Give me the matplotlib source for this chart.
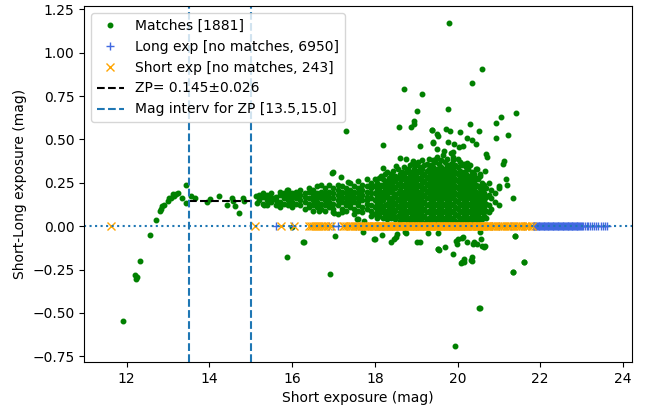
import matplotlib
matplotlib.use("Agg")
import matplotlib.pyplot as plt

# ---- data ----
# matched stars: individual points (bright end, outliers)
match_x = [
    11.92, 12.21, 12.23, 12.24, 12.31, 12.57, 12.70, 12.80, 12.82, 12.86,
    12.91, 12.99, 13.03, 13.07, 13.12, 13.15, 13.20, 13.24, 13.33, 13.43,
    13.44, 13.56, 13.64, 13.94, 14.02, 14.23, 14.43, 14.55, 14.56, 14.62,
    14.71, 14.81, 14.83, 15.13, 15.14, 15.37, 15.33, 15.57, 15.65, 15.88,
    15.88, 15.99, 16.26, 16.28, 16.64, 16.70, 16.92, 16.96, 16.98, 17.02,
    17.04, 17.12, 17.18, 17.30, 17.34, 17.58, 17.60, 17.71, 17.73, 17.99,
    18.00, 18.05, 18.17, 18.19, 18.19, 18.39, 18.43, 18.47, 18.51, 18.51,
    18.53, 18.58, 18.61, 18.61, 18.70, 18.73, 18.75, 18.75, 18.87, 18.87,
    18.92, 18.94, 18.95, 19.01, 19.03, 19.09, 19.10, 19.13, 19.28, 19.38,
    19.39, 19.40, 19.40, 19.48, 19.50, 19.50, 19.52, 19.53, 19.53, 19.54,
    19.55, 19.68, 19.69, 19.71, 19.76, 19.77, 19.80, 19.81, 19.88, 19.90,
    19.90, 19.92, 19.93, 19.96, 19.98, 20.00, 20.04, 20.05, 20.08, 20.10,
    20.12, 20.14, 20.14, 20.16, 20.16, 20.24, 20.24, 20.24, 20.31, 20.32,
    20.34, 20.34, 20.35, 20.35, 20.38, 20.39, 20.44, 20.48, 20.48, 20.51,
    20.52, 20.54, 20.55, 20.55, 20.56, 20.58, 20.59, 20.64, 20.66, 20.66,
    20.70, 20.72, 20.93, 20.93, 21.00, 21.05, 21.11, 21.13, 21.17, 21.19,
    21.23, 21.34, 21.34, 21.35, 21.38, 21.39, 21.41, 21.60, 21.61,
]
match_y = [
    -0.545, -0.280, -0.304, -0.292, -0.203, -0.052, 0.033, 0.088, 0.100, 0.117,
    0.121, 0.144, 0.160, 0.165, 0.188, 0.173, 0.183, 0.194, 0.165, 0.236,
    0.136, 0.173, 0.163, 0.140, 0.157, 0.173, 0.121, 0.165, 0.146, 0.119,
    0.079, 0.165, 0.144, 0.173, 0.136, 0.173, 0.121, 0.165, 0.121, 0.207,
    -0.177, -0.004, -0.090, -0.090, 0.088, 0.240, -0.273, 0.307, 0.313, 0.077,
    -0.058, 0.073, 0.281, 0.549, 0.255, 0.044, 0.040, -0.033, 0.031, -0.071,
    -0.071, 0.058, -0.052, 0.468, 0.336, -0.090, 0.067, -0.075, 0.346, -0.062,
    -0.046, 0.569, 0.392, 0.054, 0.789, -0.036, 0.386, -0.038, 0.569, 0.035,
    0.374, 0.605, 0.588, 0.666, -0.090, -0.090, 0.461, 0.764, -0.042, 0.553,
    0.553, 0.482, 0.484, 0.390, 0.534, 0.444, -0.042, 0.520, -0.133, -0.134,
    -0.138, 0.434, -0.119, 0.559, 0.486, 0.674, 1.173, 0.547, 0.400, 0.428,
    -0.161, 0.476, -0.690, -0.085, -0.105, -0.071, 0.457, 0.545, -0.211, -0.209,
    -0.067, 0.461, -0.065, -0.205, -0.188, 0.507, 0.367, -0.090, 0.588, -0.196,
    0.828, -0.200, 0.499, -0.180, -0.100, -0.090, 0.476, 0.328, -0.104, 0.551,
    -0.472, -0.472, 0.292, -0.033, -0.071, -0.113, 0.906, -0.119, 0.317, -0.115,
    0.415, 0.396, 0.592, 0.507, 0.223, 0.632, 0.361, 0.376, 0.271, 0.238,
    0.526, 0.163, -0.265, -0.265, -0.058, -0.056, 0.655, -0.207, -0.209,
]

# matched stars: the main cloud, read column by column (x: short mag, y: offsets)
cloud_x = [
    15.20, 15.30, 15.40, 15.50, 15.60, 15.70, 15.80, 15.90, 16.00, 16.10,
    16.20, 16.30, 16.40, 16.50, 16.60, 16.70, 16.80, 16.90, 17.00, 17.10,
    17.20, 17.30, 17.40, 17.50, 17.60, 17.70, 17.80, 17.90,
    18.00, 18.05, 18.10, 18.15, 18.20, 18.25, 18.30, 18.35, 18.40, 18.45,
    18.50, 18.55, 18.60, 18.65, 18.70, 18.75, 18.80, 18.85,
    18.90, 18.95, 19.00, 19.05, 19.10, 19.15, 19.20, 19.25, 19.30, 19.35,
    19.40, 19.45, 19.50, 19.55, 19.60, 19.65, 19.70, 19.75, 19.80, 19.85,
    19.90, 19.95, 20.00, 20.05, 20.10, 20.15, 20.20, 20.25, 20.30, 20.35,
    20.40, 20.45, 20.50, 20.55, 20.60, 20.65, 20.70, 20.75, 20.80, 20.90,
    21.00,
]
cloud_y = [
    [0.15, 0.18], [0.13, 0.17, 0.19], [0.15, 0.12, 0.18], [0.16, 0.14, 0.19],
    [0.12, 0.17, 0.15], [0.14, 0.18, 0.20, 0.11], [0.16, 0.13, 0.19],
    [0.15, 0.18, 0.12, 0.21], [0.14, 0.17, 0.19, 0.11], [0.16, 0.13, 0.20, 0.18],
    [0.15, 0.12, 0.18, 0.21], [0.17, 0.14, 0.10, 0.19], [0.16, 0.13, 0.20, 0.22, 0.11],
    [0.15, 0.12, 0.18, 0.21, 0.09], [0.17, 0.14, 0.19, 0.11, 0.23],
    [0.16, 0.13, 0.20, 0.10, 0.18], [0.15, 0.18, 0.12, 0.22, 0.09, 0.20],
    [0.17, 0.14, 0.20, 0.11, 0.24], [0.16, 0.13, 0.19, 0.22, 0.10, 0.08],
    [0.15, 0.18, 0.12, 0.21, 0.24], [0.17, 0.14, 0.20, 0.10, 0.23, 0.08],
    [0.16, 0.19, 0.12, 0.22, 0.09, 0.14], [0.18, 0.15, 0.21, 0.11, 0.25, 0.13],
    [0.17, 0.14, 0.20, 0.23, 0.10, 0.07], [0.16, 0.19, 0.12, 0.22, 0.26, 0.09, 0.14],
    [0.18, 0.15, 0.21, 0.11, 0.24, 0.08], [0.17, 0.13, 0.20, 0.23, 0.10, 0.27, 0.15],
    [0.16, 0.19, 0.12, 0.22, 0.09, 0.25, 0.06],
    [0.07, 0.11, 0.15, 0.19, 0.23, 0.27], [0.09, 0.13, 0.17, 0.21, 0.25, 0.05],
    [0.06, 0.10, 0.14, 0.18, 0.22, 0.28], [0.08, 0.12, 0.16, 0.20, 0.24, 0.29],
    [0.05, 0.10, 0.15, 0.19, 0.23, 0.27], [0.07, 0.12, 0.17, 0.21, 0.25, 0.30],
    [0.04, 0.09, 0.13, 0.18, 0.22, 0.26, 0.31], [0.06, 0.11, 0.15, 0.20, 0.24, 0.28],
    [0.05, 0.08, 0.12, 0.16, 0.21, 0.25, 0.30], [0.07, 0.10, 0.14, 0.19, 0.23, 0.27, 0.32],
    [0.04, 0.09, 0.13, 0.17, 0.22, 0.26, 0.29], [0.06, 0.11, 0.15, 0.19, 0.24, 0.28, 0.33],
    [0.03, 0.08, 0.12, 0.16, 0.21, 0.25, 0.30], [0.05, 0.10, 0.14, 0.18, 0.23, 0.27, 0.31],
    [0.04, 0.07, 0.11, 0.15, 0.20, 0.24, 0.29, 0.34], [0.06, 0.09, 0.13, 0.17, 0.22, 0.26, 0.31],
    [0.03, 0.08, 0.12, 0.16, 0.19, 0.23, 0.28, 0.33], [0.05, 0.10, 0.14, 0.18, 0.21, 0.25, 0.30, 0.35],
    [0.03, 0.07, 0.11, 0.15, 0.19, 0.23, 0.27, 0.31, 0.36],
    [0.05, 0.09, 0.13, 0.17, 0.21, 0.25, 0.29, 0.33],
    [0.02, 0.06, 0.10, 0.14, 0.18, 0.22, 0.26, 0.30, 0.35],
    [0.04, 0.08, 0.12, 0.16, 0.20, 0.24, 0.28, 0.32, 0.37],
    [0.03, 0.07, 0.11, 0.15, 0.19, 0.23, 0.27, 0.31, 0.34],
    [0.05, 0.09, 0.13, 0.17, 0.21, 0.25, 0.29, 0.33, 0.38],
    [0.02, 0.06, 0.10, 0.14, 0.18, 0.22, 0.26, 0.30, 0.35],
    [0.04, 0.08, 0.12, 0.16, 0.20, 0.24, 0.28, 0.32, 0.36],
    [0.01, 0.05, 0.09, 0.13, 0.17, 0.21, 0.25, 0.29, 0.33, 0.39],
    [0.03, 0.07, 0.11, 0.15, 0.19, 0.23, 0.27, 0.31, 0.35],
    [0.02, 0.06, 0.10, 0.14, 0.18, 0.22, 0.26, 0.30, 0.34, 0.38],
    [0.04, 0.08, 0.12, 0.16, 0.20, 0.24, 0.28, 0.32, 0.37],
    [0.01, 0.05, 0.09, 0.13, 0.17, 0.21, 0.25, 0.29, 0.33, 0.40],
    [0.03, 0.07, 0.11, 0.15, 0.19, 0.23, 0.27, 0.31, 0.36],
    [0.02, 0.06, 0.10, 0.14, 0.18, 0.22, 0.26, 0.30, 0.34, 0.38],
    [0.04, 0.08, 0.12, 0.16, 0.20, 0.24, 0.28, 0.32, 0.41],
    [0.01, 0.05, 0.09, 0.13, 0.17, 0.21, 0.25, 0.29, 0.33, 0.37],
    [0.03, 0.07, 0.11, 0.15, 0.19, 0.23, 0.27, 0.31, 0.35, 0.39],
    [0.02, 0.06, 0.10, 0.14, 0.18, 0.22, 0.26, 0.30, 0.34],
    [0.04, 0.08, 0.12, 0.16, 0.20, 0.24, 0.28, 0.32, 0.36, 0.42],
    [0.01, 0.05, 0.09, 0.13, 0.17, 0.21, 0.25, 0.29, 0.33, 0.38],
    [0.03, 0.07, 0.11, 0.15, 0.19, 0.23, 0.27, 0.31, 0.35],
    [0.02, 0.06, 0.10, 0.14, 0.18, 0.22, 0.26, 0.30, 0.34, 0.39],
    [0.04, 0.08, 0.12, 0.16, 0.20, 0.24, 0.28, 0.32, 0.37],
    [0.01, 0.05, 0.09, 0.13, 0.17, 0.21, 0.25, 0.29, 0.35],
    [0.03, 0.07, 0.11, 0.15, 0.19, 0.23, 0.27, 0.31, 0.36],
    [0.02, 0.06, 0.10, 0.14, 0.18, 0.22, 0.26, 0.30, 0.34],
    [0.04, 0.08, 0.12, 0.16, 0.20, 0.24, 0.28, 0.33],
    [0.01, 0.05, 0.09, 0.13, 0.17, 0.21, 0.25, 0.29, 0.35],
    [0.03, 0.07, 0.11, 0.15, 0.19, 0.23, 0.27, 0.31],
    [0.02, 0.06, 0.10, 0.14, 0.18, 0.22, 0.26, 0.30],
    [0.04, 0.08, 0.12, 0.16, 0.20, 0.24, 0.28, 0.33],
    [0.03, 0.07, 0.11, 0.15, 0.19, 0.23, 0.27],
    [0.05, 0.10, 0.14, 0.18, 0.22, 0.30],
    [0.04, 0.08, 0.12, 0.16, 0.21, 0.25],
    [0.06, 0.11, 0.15, 0.19, 0.24],
    [0.05, 0.09, 0.13, 0.17, 0.22],
    [0.08, 0.12, 0.18, 0.25],
    [0.10, 0.16, 0.21],
    [0.14, 0.19],
    [0.12, 0.23],
]

# short exposure without match (plotted at y = 0)
short_only_x = [
    11.61, 15.10, 15.72, 16.05, 16.41, 16.45, 16.50, 16.55, 16.60, 16.65,
    16.70, 16.75, 16.80, 16.86, 16.93, 17.22, 17.26, 17.31, 17.36, 17.41,
    17.46, 17.51, 17.57, 17.62, 17.66, 17.70, 17.74, 17.78, 17.82, 17.86,
    17.90, 17.94, 17.98, 18.01, 18.04, 18.07, 18.10, 18.13, 18.16, 18.19,
    18.22, 18.25, 18.28, 18.31, 18.34, 18.37, 18.40, 18.43, 18.46, 18.49,
    18.52, 18.55, 18.58, 18.61, 18.64, 18.67, 18.70, 18.73, 18.76, 18.79,
    18.82, 18.85, 18.88, 18.91, 18.94, 18.97, 19.00, 19.03, 19.06, 19.09,
    19.12, 19.15, 19.18, 19.21, 19.24, 19.27, 19.30, 19.33, 19.36, 19.39,
    19.42, 19.45, 19.48, 19.51, 19.54, 19.57, 19.60, 19.63, 19.66, 19.69,
    19.72, 19.75, 19.78, 19.81, 19.84, 19.87, 19.90, 19.93, 19.96, 19.99,
    20.02, 20.05, 20.08, 20.11, 20.14, 20.17, 20.20, 20.23, 20.26, 20.29,
    20.32, 20.35, 20.38, 20.41, 20.44, 20.47, 20.50, 20.53, 20.56, 20.59,
    20.62, 20.65, 20.68, 20.71, 20.74, 20.77, 20.80, 20.86, 20.91, 20.97,
    21.02, 21.08, 21.13, 21.19, 21.24, 21.30, 21.35, 21.41, 21.46, 21.52,
    21.57, 21.63, 21.68, 21.74, 21.80,
]

# long exposure without match (plotted at y = 0)
long_only_x = [
    15.60, 16.00, 16.90, 17.00, 17.10, 17.55, 17.65, 18.10, 18.20, 19.00,
    19.50, 20.00, 20.50, 20.83, 21.00, 21.30, 21.60, 21.82, 21.84, 21.86,
    21.88, 21.90, 21.92, 21.94, 21.96, 21.98, 22.00, 22.02, 22.04, 22.06,
    22.08, 22.10, 22.12, 22.14, 22.16, 22.18, 22.20, 22.22, 22.24, 22.26,
    22.28, 22.30, 22.32, 22.34, 22.36, 22.38, 22.40, 22.42, 22.44, 22.46,
    22.48, 22.50, 22.52, 22.54, 22.56, 22.58, 22.60, 22.62, 22.64, 22.66,
    22.68, 22.70, 22.72, 22.74, 22.76, 22.78, 22.80, 22.82, 22.84, 22.86,
    22.88, 22.90, 22.92, 22.94, 22.96, 22.98, 23.00, 23.04, 23.08, 23.12,
    23.16, 23.20, 23.25, 23.30, 23.35, 23.40, 23.46, 23.52, 23.57, 23.62,
]

zp_value = 0.145
zp_err = 0.026
zp_interval = [13.5, 15.0]
n_match, n_long, n_short = 1881, 6950, 243

# flatten the cloud columns
all_x = list(match_x)
all_y = list(match_y)
for cx, ys in zip(cloud_x, cloud_y):
    all_x += [cx] * len(ys)
    all_y += ys

plt.rcParams["font.family"] = "DejaVu Sans"
plt.rcParams["font.size"] = 10

fig = plt.figure(figsize=(6.57, 4.11), dpi=100)
ax = fig.add_axes([0.128, 0.119, 0.834, 0.866])

ax.plot(all_x, all_y, ".", color="green", ms=6.5,
        label=f"Matches [{n_match}]")
ax.plot(long_only_x, [0] * len(long_only_x), "+", color="royalblue", ms=6,
        label=f"Long exp [no matches, {n_long}]")
ax.plot(short_only_x, [0] * len(short_only_x), "x", color="orange", ms=6,
        label=f"Short exp [no matches, {n_short}]")
ax.plot(zp_interval, [zp_value, zp_value], "--", color="black",
        label=f"ZP= {zp_value:.3f}\u00b1{zp_err:.3f}")
ax.axvline(zp_interval[0], ls="--", color="tab:blue",
           label=f"Mag interv for ZP [{zp_interval[0]},{zp_interval[1]}]")
ax.axvline(zp_interval[1], ls="--", color="tab:blue")
ax.axhline(0, ls=":", color="tab:blue")

ax.set_xlim(10.97, 24.22)
ax.set_ylim(-0.783, 1.268)
ax.set_xlabel("Short exposure (mag)")
ax.set_ylabel("Short-Long exposure (mag)")
ax.legend(loc="upper left")

fig.savefig("out.png", dpi=100)
